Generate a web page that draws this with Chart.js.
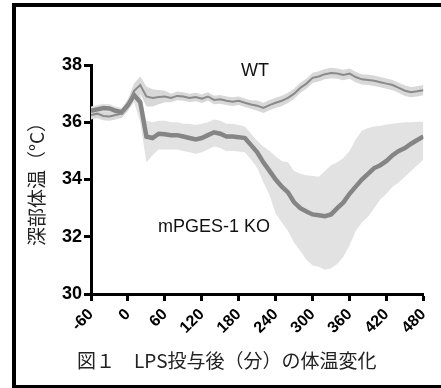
<!DOCTYPE html>
<html>
<head>
<meta charset="utf-8">
<script src="https://cdn.jsdelivr.net/npm/chart.js@4"></script>
<style>
  html, body { margin: 0; padding: 0; background: #fff; overflow: hidden; }
  #wrap { position: relative; width: 441px; height: 388px; overflow: hidden; }
  #frame { position: absolute; left: 12px; top: 3px; width: 440px; height: 378px; border: 4px solid #000; }
  #chart { position: absolute; left: 0; top: 0; }
  .lbl { position: absolute; font-family: "Liberation Sans", Arial, sans-serif; font-size: 18px; color: #111; white-space: nowrap; }
  #caption { position: absolute; left: 77px; top: 346px; font-family: "Noto Sans CJK JP", sans-serif; font-size: 19px; color: #222; white-space: nowrap; }
</style>
</head>
<body>
<div id="wrap">
  <div id="frame"></div>
  <canvas id="chart" width="441" height="388"></canvas>
  <div class="lbl" style="left:241px; top:60px;">WT</div>
  <div class="lbl" style="left:158px; top:216px;">mPGES-1 KO</div>
  <div id="caption">図１　LPS投与後（分）の体温変化</div>
</div>
<script>
// 時間（分）
const minutes = [-60, -50, -40, -30, -20, -10, 0, 10, 20, 30, 40, 50, 60, 70, 80, 90, 100,
  110, 120, 130, 140, 150, 160, 170, 180, 190, 200, 210, 220, 230, 240, 250, 260, 270, 280,
  290, 300, 310, 320, 330, 340, 350, 360, 370, 380, 390, 400, 410, 420, 430, 440, 450, 460,
  470, 480];
const xTicks = [-60, 0, 60, 120, 180, 240, 300, 360, 420, 480];
const yTicks = [30, 32, 34, 36, 38];

// WT 平均 / 誤差
const wtMean = [36.25, 36.3, 36.22, 36.2, 36.25, 36.3, 36.6, 37.1, 37.3, 36.9, 36.85, 36.88,
  36.9, 36.85, 36.92, 36.9, 36.85, 36.88, 36.82, 36.9, 36.78, 36.8, 36.75, 36.72, 36.75,
  36.68, 36.62, 36.58, 36.5, 36.6, 36.68, 36.75, 36.85, 37.0, 37.2, 37.35, 37.55, 37.6,
  37.68, 37.72, 37.7, 37.65, 37.7, 37.58, 37.5, 37.48, 37.45, 37.4, 37.35, 37.3, 37.2, 37.1,
  37.05, 37.08, 37.12];
const wtErr = [0.15, 0.15, 0.15, 0.15, 0.15, 0.15, 0.2, 0.25, 0.3, 0.35, 0.3, 0.25, 0.2,
  0.15, 0.15, 0.15, 0.15, 0.15, 0.15, 0.15, 0.15, 0.15, 0.15, 0.15, 0.15, 0.15, 0.15, 0.18,
  0.18, 0.18, 0.18, 0.18, 0.18, 0.18, 0.18, 0.18, 0.18, 0.18, 0.18, 0.18, 0.18, 0.18, 0.18,
  0.18, 0.18, 0.18, 0.18, 0.18, 0.18, 0.18, 0.18, 0.18, 0.18, 0.18, 0.18];

// mPGES-1 KO 平均 / 上限 / 下限
const koMean = [36.4, 36.45, 36.5, 36.48, 36.4, 36.35, 36.6, 36.95, 36.7, 35.5, 35.45, 35.6,
  35.58, 35.55, 35.55, 35.5, 35.45, 35.4, 35.45, 35.55, 35.65, 35.6, 35.5, 35.5, 35.48,
  35.45, 35.2, 34.95, 34.6, 34.3, 34.0, 33.75, 33.55, 33.2, 33.0, 32.88, 32.78, 32.75,
  32.72, 32.78, 33.0, 33.2, 33.5, 33.75, 34.0, 34.2, 34.4, 34.5, 34.65, 34.85, 35.0, 35.1,
  35.25, 35.38, 35.5];
const koUpper = [36.55, 36.6, 36.65, 36.63, 36.55, 36.5, 36.8, 37.1, 37.0, 36.05, 36.0, 36.05,
  36.05, 36.0, 36.0, 35.95, 35.95, 35.9, 35.95, 36.0, 36.1, 36.05, 35.95, 35.95, 35.9,
  35.85, 35.6, 35.35, 35.15, 35.0, 34.8, 34.65, 34.6, 34.3, 34.2, 34.15, 34.12, 34.1, 34.3,
  34.5, 34.6, 34.75, 35.0, 35.4, 35.7, 35.8, 35.85, 35.88, 35.92, 35.95, 35.97, 36.0, 36.0,
  36.02, 36.02];
const koLower = [36.25, 36.3, 36.35, 36.33, 36.25, 36.2, 36.4, 36.7, 36.0, 34.6, 34.85,
  35.05, 35.05, 35.05, 35.05, 35.0, 34.95, 34.9, 34.95, 35.05, 35.15, 35.1, 35.0, 35.0,
  34.98, 34.95, 34.7, 34.4, 33.9, 33.45, 32.8, 32.5, 32.2, 31.8, 31.5, 31.2, 31.0, 30.95,
  30.85, 30.9, 31.05, 31.3, 31.7, 32.2, 32.5, 32.7, 33.0, 33.3, 33.5, 33.75, 33.9, 34.1,
  34.3, 34.5, 34.7];

function pts(values) {
  return minutes.map((m, i) => ({ x: m, y: values[i] }));
}

const wtUpper = wtMean.map((v, i) => v + wtErr[i]);
const wtLower = wtMean.map((v, i) => v - wtErr[i]);

const lineBase = { pointRadius: 0, tension: 0, fill: false };

new Chart(document.getElementById('chart'), {
  type: 'line',
  data: {
    datasets: [
      { ...lineBase, label: 'WT', data: pts(wtMean), borderColor: '#8a8a8a', borderWidth: 2, order: 0 },
      { ...lineBase, label: 'mPGES-1 KO', data: pts(koMean), borderColor: '#858585', borderWidth: 4.5, order: 0 },
      { ...lineBase, label: 'wt+', data: pts(wtUpper), borderWidth: 0, borderColor: 'rgba(0,0,0,0)', backgroundColor: '#d8d8d8', fill: '+1', order: 2 },
      { ...lineBase, label: 'wt-', data: pts(wtLower), borderWidth: 0, borderColor: 'rgba(0,0,0,0)', order: 2 },
      { ...lineBase, label: 'ko+', data: pts(koUpper), borderWidth: 0, borderColor: 'rgba(0,0,0,0)', backgroundColor: '#e2e2e2', fill: '+1', order: 3 },
      { ...lineBase, label: 'ko-', data: pts(koLower), borderWidth: 0, borderColor: 'rgba(0,0,0,0)', order: 3 }
    ]
  },
  options: {
    responsive: false,
    animation: false,
    layout: { padding: { left: 0, top: 65, right: 11, bottom: 0 } },
    plugins: { legend: { display: false }, tooltip: { enabled: false } },
    scales: {
      x: {
        type: 'linear',
        min: -60,
        max: 480,
        afterBuildTicks: s => { s.ticks = xTicks.map(v => ({ value: v })); },
        afterFit: s => { s.height = 94; },
        border: { display: true, width: 3, color: '#000' },
        grid: { drawOnChartArea: false, drawTicks: true, tickLength: 7, tickWidth: 3, tickColor: '#000' },
        ticks: {
          autoSkip: false, maxRotation: 45, minRotation: 45, padding: 4, color: '#000',
          font: { family: 'Liberation Sans', size: 16, weight: 'bold' }
        }
      },
      y: {
        min: 30,
        max: 38,
        afterBuildTicks: s => { s.ticks = yTicks.map(v => ({ value: v })); },
        afterFit: s => { s.width = 91; },
        border: { display: true, width: 3, color: '#000' },
        grid: { drawOnChartArea: false, drawTicks: true, tickLength: 7, tickWidth: 3, tickColor: '#000' },
        ticks: {
          padding: 2, color: '#000',
          font: { family: 'Liberation Sans', size: 18, weight: 'bold' }
        },
        title: {
          display: true,
          text: '深部体温（°C）',
          color: '#222',
          padding: { top: 25, bottom: 0 },
          font: { family: 'Noto Sans CJK JP', size: 19 }
        }
      }
    }
  }
});
</script>
</body>
</html>
